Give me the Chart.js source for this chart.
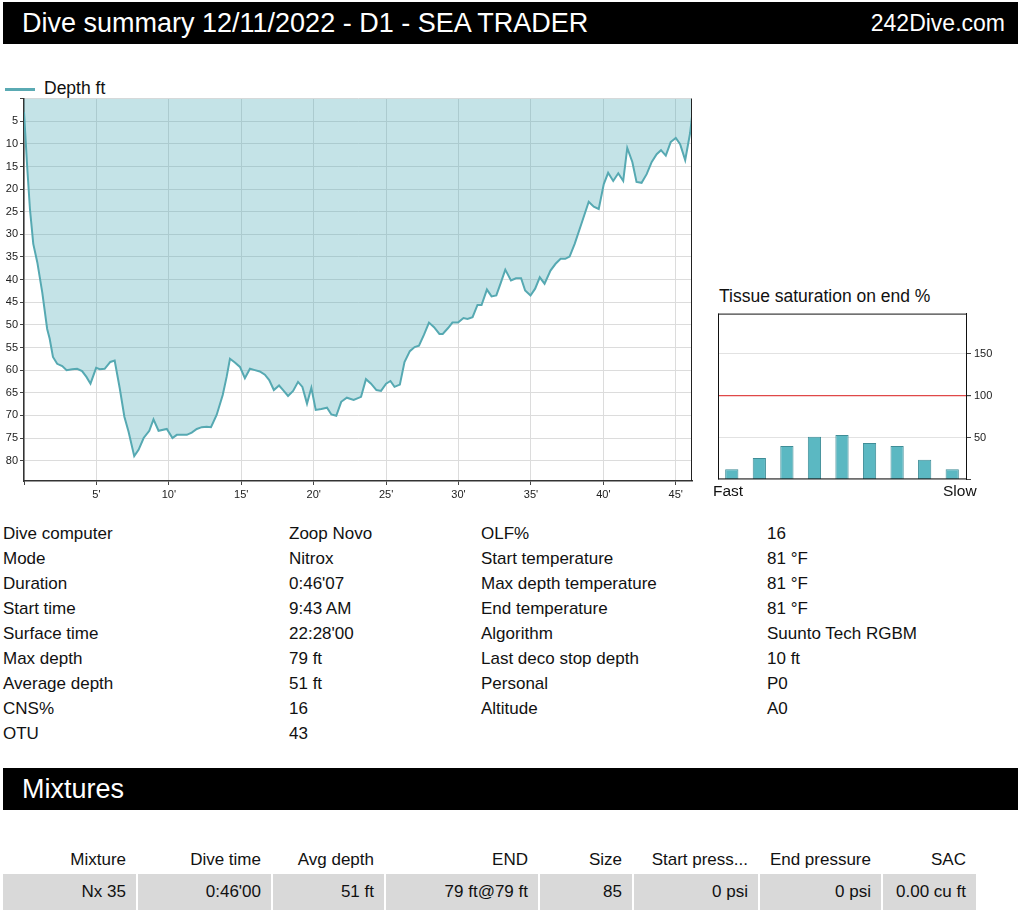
<!DOCTYPE html>
<html>
<head>
<meta charset="utf-8">
<title>Dive summary</title>
<script src="https://cdn.jsdelivr.net/npm/chart.js@4"></script>
<style>
  body { margin: 0; width: 1024px; height: 915px; position: relative; background: #fff;
         font-family: "Liberation Sans", Arial, sans-serif; color: #111; overflow: hidden; }
  .bar { position: absolute; left: 3px; width: 1015px; height: 42px; background: #000; color: #fff; }
  .bar .title { position: absolute; left: 19px; top: 0; line-height: 42px; font-size: 27px; }
  .bar .site { position: absolute; right: 13px; top: 0; line-height: 42px; font-size: 23px; }
  .abs { position: absolute; }
  .legend { left: 5px; top: 78px; height: 20px; font-size: 17.5px; line-height: 20px; }
  .legend .sw { display: inline-block; width: 30px; height: 3px; background: #5aaab3; vertical-align: middle; margin-right: 9px; }
  .info { font-size: 17px; line-height: 25px; }
  .mix { left: 3px; top: 845px; font-size: 17px; }
  .mix .row { display: flex; }
  .mix .cell { text-align: right; padding-right: 10px; box-sizing: border-box; white-space: nowrap; }
  .mix .head .cell { height: 29px; line-height: 29px; }
  .mix .data .cell { height: 36px; line-height: 36px; background: #d9d9d9; border-left: 2px solid #fff; }
  .mix .data .cell:first-child { border-left: none; }
</style>
</head>
<body>

<div class="bar" style="top:2px"><span class="title">Dive summary 12/11/2022 - D1 - SEA TRADER</span><span class="site">242Dive.com</span></div>

<div class="abs legend"><span class="sw"></span>Depth ft</div>
<div class="abs" style="left:0; top:90px; width:700px; height:417px;"><canvas id="depthChart"></canvas></div>

<div class="abs" style="left:719px; top:286px; font-size:17.5px;">Tissue saturation on end %</div>
<div class="abs" style="left:718px; top:304px; width:286px; height:185px;"><canvas id="tissueChart"></canvas></div>
<div class="abs" style="left:713px; top:482px; font-size:15.5px;">Fast</div>
<div class="abs" style="left:943px; top:482px; font-size:15.5px;">Slow</div>

<div class="abs info" id="infoLeftLabels" style="left:3px; top:521px;"></div>
<div class="abs info" id="infoLeftValues" style="left:289px; top:521px;"></div>
<div class="abs info" id="infoRightLabels" style="left:481px; top:521px;"></div>
<div class="abs info" id="infoRightValues" style="left:767px; top:521px;"></div>

<div class="bar" style="top:768px"><span class="title">Mixtures</span></div>

<div class="abs mix" id="mixTable"></div>

<script>
"use strict";

// --- Depth profile (minutes, feet) ---
const depthTimes = [
    0, 0.23, 0.41, 0.64, 0.92, 1.26, 1.6, 1.77, 2.0, 2.29, 2.64, 2.94, 3.33, 3.67, 4.01, 4.31, 4.59,
    4.98, 5.23, 5.57, 5.96, 6.26, 6.61, 6.93, 7.22, 7.61, 7.91, 8.26, 8.65, 8.94, 9.29, 9.86, 10.25,
    10.55, 11.24, 11.58, 11.93, 12.27, 12.61, 12.91, 13.3, 13.72, 13.99, 14.22, 14.56, 14.91, 15.25,
    15.6, 15.94, 16.28, 16.63, 16.93, 17.25, 17.61, 17.89, 18.23, 18.58, 18.92, 19.22, 19.54, 19.84,
    20.14, 20.53, 20.92, 21.22, 21.56, 21.9, 22.29, 22.76, 23.27, 23.61, 23.96, 24.33, 24.65, 25.0,
    25.3, 25.58, 25.95, 26.27, 26.64, 26.97, 27.27, 27.61, 27.96, 28.31, 28.68, 28.91, 29.28, 29.58,
    29.97, 30.34, 30.62, 30.97, 31.31, 31.59, 31.96, 32.28, 32.61, 32.93, 33.23, 33.62, 33.97, 34.32,
    34.6, 34.97, 35.29, 35.61, 35.94, 36.35, 36.7, 37.05, 37.37, 37.67, 38.02, 38.48, 38.99, 39.34,
    39.68, 40.03, 40.33, 40.68, 41.03, 41.37, 41.65, 42.0, 42.29, 42.64, 42.99, 43.34, 43.68, 43.98,
    44.31, 44.65, 45.0, 45.3, 45.65, 45.99, 46.12
];
const depthValues = [
    3, 15.6, 24.4, 32.1, 36.2, 42.8, 50.9, 53, 57.1, 58.6, 59.1, 60, 59.8, 59.7, 60.2, 61.5, 63,
    59.5, 59.8, 59.7, 58.2, 57.9, 64, 70.3, 73.6, 79, 77.6, 75, 73.4, 70.9, 73.4, 73, 75,
    74.3, 74.3, 73.8, 73, 72.6, 72.5, 72.6, 69.9, 65.5, 61.5, 57.5, 58.3, 59.3, 61.8,
    59.7, 60, 60.3, 61, 62.2, 64.4, 63.4, 64.4, 65.7, 64.6, 62.6, 63.7, 67.4, 63.9,
    68.8, 68.6, 68.3, 69.8, 70.1, 67, 66.1, 66.6, 65.9, 62, 63, 64.4, 64.6, 63,
    62.4, 63.7, 63.2, 58.2, 55.8, 54.9, 54.6, 52.2, 49.5, 50.5, 52, 52, 50.7, 49.5,
    49.5, 48.5, 48.7, 48.3, 45.6, 45.6, 42.2, 43.7, 43.5, 40.6, 37.8, 40.2, 39.7, 39.7,
    42.4, 43.5, 42, 39.5, 40.9, 38, 36.5, 35.4, 35.4, 34.9, 32.1, 27.7, 22.8, 23.9,
    24.4, 18.9, 16.4, 18.2, 16.5, 18.2, 10.9, 14, 18.4, 18.6, 16.7, 14, 12.3, 11.4,
    12.6, 9.6, 8.7, 10.1, 13.6, 7.6, 4
];
const diveDuration = 46.12; // 46'07
const depthMax = 84.5;
const depthTicks = [0, 5, 10, 15, 20, 25, 30, 35, 40, 45, 50, 55, 60, 65, 70, 75, 80];
const timeTicks = [0, 5, 10, 15, 20, 25, 30, 35, 40, 45];

// --- Tissue saturation on end (%) ---
const tissueLabels = ['1', '2', '3', '4', '5', '6', '7', '8', '9'];
const tissueValues = [12, 25.5, 40, 51, 53, 43.5, 40, 23.5, 12];
const tissueTicks = [0, 50, 100, 150];
const tissueMax = 198;
const tissueLimit = 100;

// --- Dive info ---
const infoLeftLabels = ['Dive computer', 'Mode', 'Duration', 'Start time', 'Surface time', 'Max depth', 'Average depth', 'CNS%', 'OTU'];
const infoLeftValues = ['Zoop Novo', 'Nitrox', "0:46'07", '9:43 AM', "22:28'00", '79 ft', '51 ft', '16', '43'];
const infoRightLabels = ['OLF%', 'Start temperature', 'Max depth temperature', 'End temperature', 'Algorithm', 'Last deco stop depth', 'Personal', 'Altitude'];
const infoRightValues = ['16', '81 °F', '81 °F', '81 °F', 'Suunto Tech RGBM', '10 ft', 'P0', 'A0'];

// --- Mixtures table ---
const mixHeaders = ['Mixture', 'Dive time', 'Avg depth', 'END', 'Size', 'Start press...', 'End pressure', 'SAC'];
const mixRow = ['Nx 35', "0:46'00", '51 ft', '79 ft@79 ft', '85', '0 psi', '0 psi', '0.00 cu ft'];
const mixColWidths = [133, 135, 113, 154, 94, 126, 123, 95];

// Fill the text blocks
function fillColumn(id, items) {
    document.getElementById(id).innerHTML = items.map(t => `<div>${t}</div>`).join('');
}
fillColumn('infoLeftLabels', infoLeftLabels);
fillColumn('infoLeftValues', infoLeftValues);
fillColumn('infoRightLabels', infoRightLabels);
fillColumn('infoRightValues', infoRightValues);

const rowHtml = (cells, cls) => `<div class="row ${cls}">` +
    cells.map((c, i) => `<div class="cell" style="width:${mixColWidths[i]}px">${c}</div>`).join('') + '</div>';
document.getElementById('mixTable').innerHTML = rowHtml(mixHeaders, 'head') + rowHtml(mixRow, 'data');

// Draws border lines around the chart area on chosen sides
const framePlugin = {
    id: 'frame',
    afterDraw(chart, args, opts) {
        const { ctx, chartArea: a } = chart;
        ctx.save();
        ctx.strokeStyle = opts.color || '#000';
        ctx.lineWidth = opts.width || 1;
        ctx.beginPath();
        (opts.sides || []).forEach(s => {
            if (s === 'top') { ctx.moveTo(a.left, a.top + 0.5); ctx.lineTo(a.right, a.top + 0.5); }
            if (s === 'bottom') { ctx.moveTo(a.left, a.bottom - 0.5); ctx.lineTo(a.right, a.bottom - 0.5); }
            if (s === 'left') { ctx.moveTo(a.left + 0.5, a.top); ctx.lineTo(a.left + 0.5, a.bottom); }
            if (s === 'right') { ctx.moveTo(a.right - 0.5, a.top); ctx.lineTo(a.right - 0.5, a.bottom); }
        });
        ctx.stroke();
        ctx.restore();
    }
};

const tickFont = { family: '"Liberation Sans", Arial, sans-serif', size: 11 };
const useTicks = list => scale => { scale.ticks = list.map(v => ({ value: v })); };

// --- 1. Depth profile (filled line) ---
new Chart(document.getElementById('depthChart'), {
    type: 'line',
    data: {
        datasets: [{
            label: 'Depth ft',
            data: depthTimes.map((t, i) => ({ x: t, y: depthValues[i] })),
            borderColor: '#56a9b2',
            backgroundColor: 'rgba(70, 168, 180, 0.32)',
            borderWidth: 2,
            pointRadius: 0,
            tension: 0,
            fill: { value: 0 }
        }]
    },
    options: {
        responsive: true,
        maintainAspectRatio: false,
        animation: false,
        layout: { padding: { top: 0, right: 8, left: 0, bottom: 0 } },
        plugins: {
            legend: { display: false },
            tooltip: { enabled: false },
            frame: { color: '#222', sides: ['right'] }
        },
        scales: {
            x: {
                type: 'linear',
                min: 0,
                max: diveDuration,
                afterBuildTicks: useTicks(timeTicks),
                afterFit: s => { s.height = 26; },
                ticks: { color: '#222', font: tickFont, maxRotation: 0, padding: 3, autoSkip: false,
                         callback: v => (v === 0 ? '' : v + "'") },
                grid: { color: '#dcdcdc', tickLength: 4, tickColor: '#444' },
                border: { color: '#333', width: 1.5 }
            },
            y: {
                reverse: true,
                min: 0,
                max: depthMax,
                afterBuildTicks: useTicks(depthTicks),
                afterFit: s => { s.width = 24; },
                ticks: { color: '#222', font: tickFont, padding: 2, autoSkip: false,
                         callback: v => (v === 0 ? '' : v) },
                grid: { color: '#dcdcdc', tickLength: 4, tickColor: '#444' },
                border: { color: '#333', width: 1.5 }
            }
        }
    },
    plugins: [framePlugin]
});

// --- 2. Tissue saturation (bar) ---
new Chart(document.getElementById('tissueChart'), {
    type: 'bar',
    data: {
        labels: tissueLabels,
        datasets: [{
            label: 'Tissue saturation',
            data: tissueValues,
            backgroundColor: '#5bb8c2',
            borderColor: '#3f8d97',
            borderWidth: 1,
            barPercentage: 0.48,
            categoryPercentage: 1
        }]
    },
    options: {
        responsive: true,
        maintainAspectRatio: false,
        animation: false,
        layout: { padding: 0 },
        plugins: {
            legend: { display: false },
            tooltip: { enabled: false },
            frame: { color: '#111', sides: ['left', 'top', 'bottom'] }
        },
        scales: {
            x: { display: false },
            y: {
                position: 'right',
                min: 0,
                max: tissueMax,
                afterBuildTicks: useTicks(tissueTicks),
                afterFit: s => { s.width = 38; },
                ticks: { color: '#222', font: tickFont, padding: 3, autoSkip: false,
                         callback: v => (v === 0 ? '' : v) },
                grid: {
                    color: ctx => (ctx.tick && ctx.tick.value === tissueLimit ? '#e04848' : '#e2e2e2'),
                    lineWidth: ctx => (ctx.tick && ctx.tick.value === tissueLimit ? 1.2 : 1),
                    tickLength: 5,
                    tickColor: '#444'
                },
                border: { color: '#111', width: 1 }
            }
        }
    },
    plugins: [framePlugin]
});
</script>
</body>
</html>
